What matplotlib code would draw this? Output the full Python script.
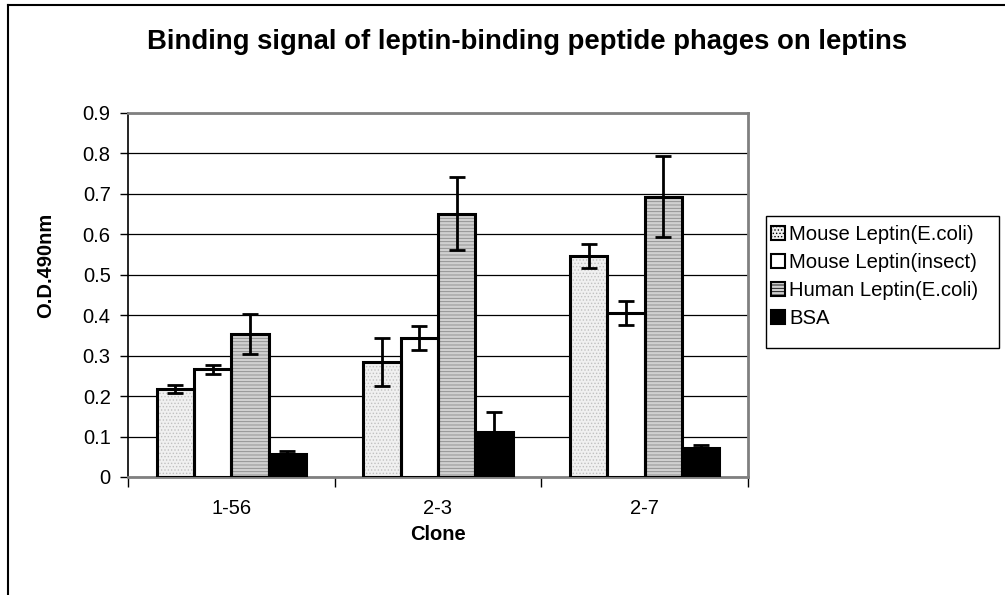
import numpy as np
import matplotlib
matplotlib.use('Agg')
import matplotlib.pyplot as plt
from matplotlib.patches import Patch, Rectangle
from matplotlib.lines import Line2D

plt.rcParams['font.family'] = ['Liberation Sans', 'DejaVu Sans']
plt.rcParams['hatch.linewidth'] = 0.6

clones = ['1-56', '2-3', '2-7']
series = ['Mouse Leptin(E.coli)', 'Mouse Leptin(insect)', 'Human Leptin(E.coli)', 'BSA']

mouse_ecoli = [0.217, 0.284, 0.547]
mouse_ecoli_err = [0.010, 0.060, 0.030]
mouse_insect = [0.266, 0.343, 0.406]
mouse_insect_err = [0.011, 0.030, 0.030]
human_ecoli = [0.354, 0.651, 0.693]
human_ecoli_err = [0.050, 0.090, 0.100]
bsa = [0.057, 0.111, 0.072]
bsa_err = [0.007, 0.050, 0.008]

values = [mouse_ecoli, mouse_insect, human_ecoli, bsa]
errors = [mouse_ecoli_err, mouse_insect_err, human_ecoli_err, bsa_err]

# fill, hatch, hatch colour
styles = [('#f0f0f0', '.....', '#c0c0c0'),
          ('white', '', 'white'),
          ('#d0d0d0', '-----', '#8a8a8a'),
          ('black', '', 'black')]

fig = plt.figure(figsize=(10.05, 5.95), dpi=100)
W, H = 1005, 595
ax = fig.add_axes([128 / W, 1 - 477 / H, 620 / W, 364 / H])

x = np.arange(len(clones))
w = 0.181
for i, (vals, errs) in enumerate(zip(values, errors)):
    fc, hatch, hc = styles[i]
    pos = x + (i - 1.5) * w
    ax.bar(pos, vals, w, color=fc, hatch=hatch, edgecolor=hc, linewidth=0, zorder=2)
    ax.bar(pos, vals, w, facecolor='none', edgecolor='black', linewidth=2.2, zorder=3)
    ax.errorbar(pos, vals, yerr=errs, fmt='none', ecolor='black', elinewidth=2,
                capsize=5.5, capthick=2, zorder=4)

ax.set_xlim(-0.5, 2.5)
ax.set_ylim(0, 0.9)
ax.set_yticks(np.arange(0, 0.91, 0.1))
ax.set_yticklabels(['0'] + ['%.1f' % v for v in np.arange(0.1, 0.91, 0.1)], fontsize=14.5)
ax.yaxis.grid(True, color='black', linewidth=0.9, zorder=0)
ax.set_axisbelow(True)

ax.set_xticks(x)
ax.set_xticklabels(clones, fontsize=14.5)
ax.tick_params(axis='x', length=0, pad=15.5)
ax.set_xticks(np.arange(-0.5, 2.6, 1), minor=True)
ax.tick_params(axis='x', which='minor', length=7, width=1, direction='out', color='black')
ax.tick_params(axis='y', length=6, width=1, direction='out', pad=6.5)

ax.spines['left'].set_color('black')
ax.spines['left'].set_linewidth(1.2)
for side in ['bottom', 'top', 'right']:
    ax.spines[side].set_color('#808080')
    ax.spines[side].set_linewidth(2)

fig.text(45.5 / W, 1 - 265 / H, 'O.D.490nm', rotation=90, ha='center', va='center',
         fontsize=14.5, fontweight='bold')
fig.text(438 / W, 1 - 535 / H, 'Clone', ha='center', va='center',
         fontsize=14.5, fontweight='bold')
fig.text(527 / W, 1 - 42 / H, 'Binding signal of leptin-binding peptide phages on leptins',
         ha='center', va='center', fontsize=19.8, fontweight='bold')

handles = []
for fc, hatch, hc in styles:
    handles.append(Patch(facecolor=fc, hatch=hatch, edgecolor='black', linewidth=1.5))
leg = fig.legend(handles, series, loc='upper left', bbox_to_anchor=(771 / W, 1 - 225 / H),
                 fontsize=14.6, frameon=False, handlelength=0.7,
                 handleheight=0.7, handletextpad=0.2, labelspacing=0.45,
                 borderpad=0, borderaxespad=0)
# legend box drawn separately (Excel leaves extra room on the right)
fig.add_artist(Rectangle((766 / W, 1 - 348 / H), 233 / W, 132 / H, transform=fig.transFigure,
                         facecolor='none', edgecolor='black', linewidth=1))

# outer chart-area frame (left and top edges visible)
fig.add_artist(Line2D([8 / W, 8 / W], [0, 1 - 5 / H], color='black', linewidth=1.5))
fig.add_artist(Line2D([8 / W, 1], [1 - 5 / H, 1 - 5 / H], color='black', linewidth=1.5))

fig.savefig('out.png', dpi=100)
